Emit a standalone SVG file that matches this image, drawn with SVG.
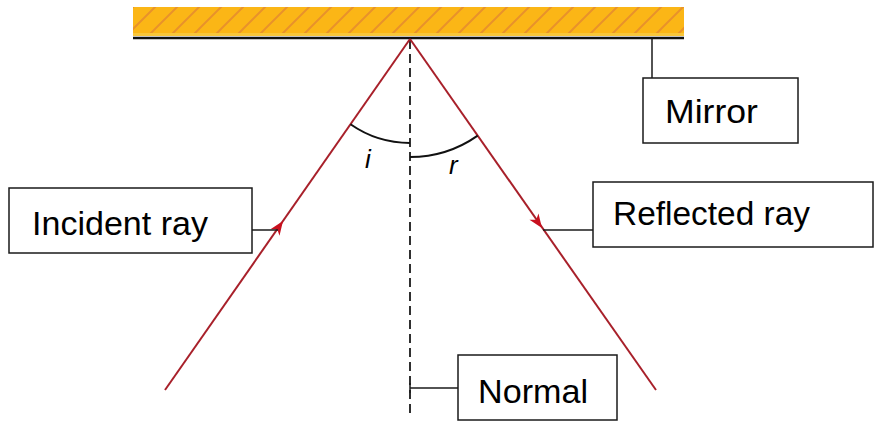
<svg xmlns="http://www.w3.org/2000/svg" xmlns:xlink="http://www.w3.org/1999/xlink" width="876" height="422" viewBox="0 0 876 422">
  <style>
    .box { fill: #ffffff; stroke: #1a1a1a; stroke-width: 1.5; }
    .label { font-family: "Liberation Sans", Arial, sans-serif; font-size: 33px; fill: #000000; }
    .angle { font-family: "Liberation Sans", Arial, sans-serif; font-size: 26px; font-style: italic; fill: #000000; }
    .ray { stroke: #a8202a; stroke-width: 2; fill: none; }
    .lead { stroke: #1a1a1a; stroke-width: 1.5; fill: none; }
    .arc { stroke: #111111; stroke-width: 2; fill: none; }
    .normal { stroke: #1a1a1a; stroke-width: 1.8; stroke-dasharray: 9 5; fill: none; }
    .head { fill: #c8101e; }
  </style>
  <defs>
    <pattern id="hatch" patternUnits="userSpaceOnUse" width="22" height="22" x="133" y="7">
      <path d="M0,22 L22,0 M-3,3 L3,-3 M19,25 L25,19" stroke="#e9922a" stroke-width="2"/>
    </pattern>
    <path id="arrowhead" class="head" d="M0,0 L-14,-5.5 L-10,0 L-14,5.5 Z"/>
  </defs>

  <!-- mirror surface -->
  <g id="mirror">
    <rect x="133" y="7" width="551" height="29" fill="#fbb616"/>
    <rect x="133" y="7" width="551" height="29" fill="url(#hatch)"/>
    <rect x="133" y="33" width="551" height="3" fill="#f8c63a"/>
    <line x1="133" y1="38" x2="684" y2="38" stroke="#111111" stroke-width="2.5"/>
  </g>

  <!-- rays, normal, angle arcs and leader lines -->
  <g id="connectors">
    <line class="normal" x1="410" y1="40" x2="410" y2="416"/>
    <line class="ray" x1="165" y1="390" x2="410" y2="39"/>
    <line class="ray" x1="410" y1="39" x2="656" y2="390"/>
    <use xlink:href="#arrowhead" transform="translate(283,221) rotate(-55.1)"/>
    <use xlink:href="#arrowhead" transform="translate(542,228) rotate(55)"/>
    <path class="arc" d="M350.5,124.3 A104,104 0 0,0 410,143"/>
    <path class="arc" d="M410,157 A118,118 0 0,0 477.7,135.6"/>
    <line class="lead" x1="652" y1="39" x2="652" y2="78"/>
    <line class="lead" x1="252" y1="230" x2="278" y2="230"/>
    <line class="lead" x1="543" y1="230" x2="593" y2="230"/>
    <line class="lead" x1="410" y1="388" x2="458" y2="388"/>
    <line class="lead" x1="410" y1="383" x2="410" y2="393"/>
  </g>

  <g id="angle-i">
    <text class="angle" x="365" y="168">i</text>
  </g>
  <g id="angle-r">
    <text class="angle" x="449" y="174">r</text>
  </g>

  <g id="mirror-label">
    <rect class="box" x="643" y="78" width="155" height="65"/>
    <text class="label" x="665" y="123" textLength="93" lengthAdjust="spacingAndGlyphs">Mirror</text>
  </g>

  <g id="incident-ray">
    <rect class="box" x="9" y="188" width="243" height="65"/>
    <text class="label" x="32" y="235" textLength="176" lengthAdjust="spacingAndGlyphs">Incident ray</text>
  </g>

  <g id="reflected-ray">
    <rect class="box" x="593" y="182" width="280" height="65"/>
    <text class="label" x="613" y="225" textLength="197" lengthAdjust="spacingAndGlyphs">Reflected ray</text>
  </g>

  <g id="normal">
    <rect class="box" x="458" y="355" width="159" height="65"/>
    <text class="label" x="478" y="403" textLength="110" lengthAdjust="spacingAndGlyphs">Normal</text>
  </g>
</svg>
